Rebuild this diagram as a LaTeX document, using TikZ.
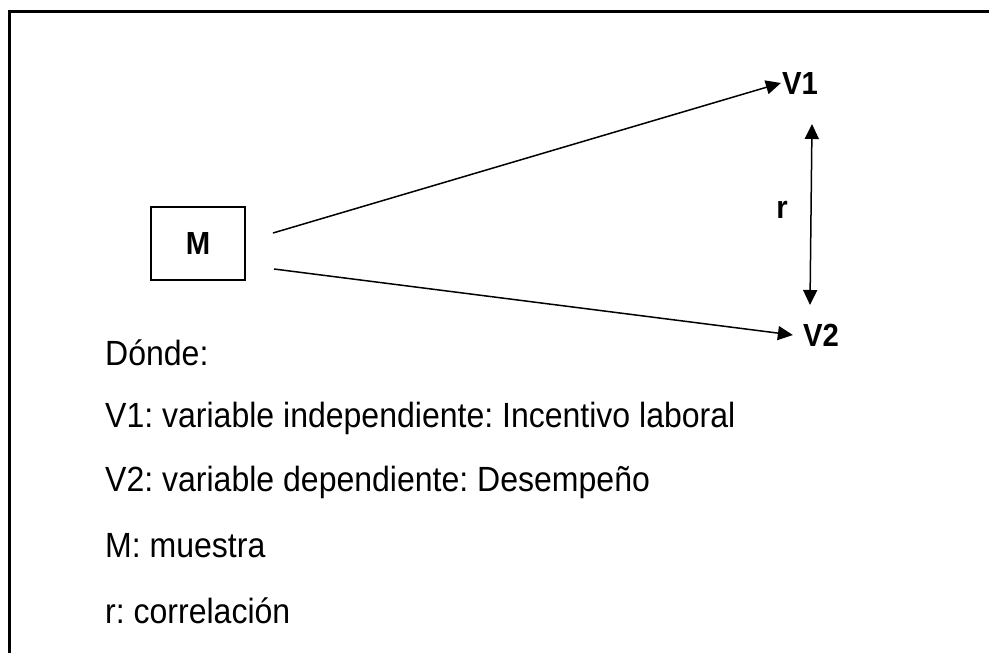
\documentclass[tikz,border=0pt]{standalone}
\usepackage{fontspec}
\setmainfont[FakeStretch=0.915]{Liberation Sans}
\usetikzlibrary{arrows.meta}
\tikzset{
  lbl/.style={font=\fontsize{35}{40}\selectfont, inner sep=0pt},
  blbl/.style={font=\fontsize{32}{38}\selectfont\bfseries, inner sep=1pt},
  arr/.style={line width=1.5pt, -{Triangle[length=15pt,width=14pt]}},
}

\begin{document}
\frenchspacing
\begin{tikzpicture}[x=1pt,y=-1pt]
        \useasboundingbox (0,0) rectangle (989,653);

        % Frame (top and left)
        \draw[black, line width=3pt] (989,11) -- (9,11) -- (9,653);

        % Sample box
        \node[blbl, draw=black, line width=2pt, minimum width=94pt, minimum height=73pt] (M) at (198,243.5) {M};

        % Variables
        \node[blbl] (V1) at (800,83) {V1};
        \node[blbl, inner sep=10pt] (V2) at (821,335) {V2};
        \node[blbl] (r) at (782,210) {r};

        % Arrows from the sample
        \coordinate (mtop) at (273,233);
        \coordinate (mbot) at (274,269);
        \draw[arr] (mtop) -- (V1.west);
        \draw[arr] (mbot) -- (V2.west);

        % Correlation
        \coordinate (rtop) at (812,124);
        \coordinate (rbot) at (810,305);
        \draw[line width=1.5pt, {Triangle[length=15pt,width=14pt]}-{Triangle[length=15pt,width=14pt]}] (rtop) -- (rbot);

        % Legend
        \node[lbl, anchor=west] (donde) at (105,353) {Dónde:};
        \node[lbl, anchor=west] (leg1) at (105,418) {V1: variable independiente: Incentivo laboral};
        \node[lbl, anchor=west] (leg2) at (105,482) {V2: variable dependiente: Desempeño};
        \node[lbl, anchor=west] (leg3) at (105,546) {M: muestra};
        \node[lbl, anchor=west] (leg4) at (105,611) {r: correlación};
\end{tikzpicture}
\end{document}
